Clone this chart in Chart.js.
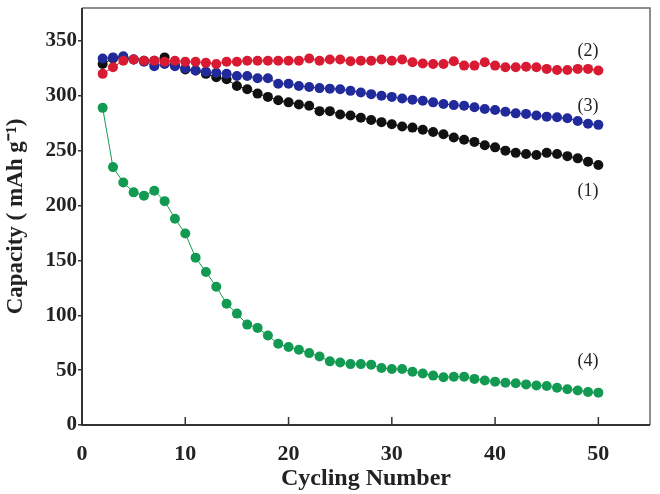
<!DOCTYPE html>
<html>
<head>
<meta charset="utf-8">
<script src="https://cdn.jsdelivr.net/npm/chart.js@4.4.0/dist/chart.umd.min.js"></script>
<style>
  html, body { margin: 0; padding: 0; background: #fff; }
  #wrap { width: 660px; height: 494px; }
</style>
</head>
<body>
<div id="wrap"><canvas id="myChart"></canvas></div>
<script>
// cycle numbers (x)
const cycles = [2, 3, 4, 5, 6, 7, 8, 9, 10, 11, 12, 13, 14, 15, 16, 17, 18, 19, 20, 21, 22, 23, 24, 25, 26,
  27, 28, 29, 30, 31, 32, 33, 34, 35, 36, 37, 38, 39, 40, 41, 42, 43, 44, 45, 46, 47, 48, 49, 50];

// capacity (mAh/g)
const cap1 = [329, 334, 335, 333, 332, 332, 335, 328, 324, 323, 320, 317, 315, 309, 306, 302, 299, 296, 294, 292, 291, 286, 286, 283, 282,
  280, 278, 276, 274, 272, 271, 269, 267, 265, 262, 260, 258, 255, 253, 250, 248, 247, 246, 248, 247, 245, 243, 240, 237];
const cap2 = [320, 326, 332, 333, 332, 332, 331, 332, 331, 331, 330, 329, 331, 331, 332, 332, 332, 332, 332, 332, 334, 332, 333, 333, 331.5,
  332, 332, 333, 332, 333, 330.5, 329.5, 329, 329, 331.5, 327.5, 327.5, 330.5, 327.5, 326, 326, 326.5, 326, 324.5, 323.5, 323.5, 324.5, 324.5, 323];
const cap3 = [334, 335, 336, 333, 331, 327, 329, 327, 325, 323, 322, 321, 320, 318, 318, 316, 316, 311, 311, 309, 308, 307,
  306.5, 306, 304.5, 303, 301.5, 300, 299, 297.5, 296.5, 295.5, 294, 292.5, 291.5, 291, 289.5, 288, 287, 285.5, 284, 283.5,
  282, 281, 280.5, 279.5, 277, 274.5, 273.5];
const cap4 = [289, 235, 221, 212, 209, 213.5, 204, 188, 174.5, 152.5, 139.5, 126, 110.5, 101.5, 91.5, 88.5, 81.5, 74, 71, 68.5, 65.5, 62.5, 58, 57, 55.5,
  55.5, 55, 52, 51, 51, 48.5, 47, 45, 43.5, 44, 44, 42, 40.5, 39.5, 38.5, 38, 37, 36, 35.5, 34, 32.5, 31.5, 30, 29.5];

// series names / colours
const seriesNames = ['(1)', '(2)', '(3)', '(4)'];
const seriesColors = ['#111111', '#d81a32', '#212a9a', '#129a52'];
// draw order (lower = on top): red, blue, black, green
const seriesOrder = [2, 0, 1, 3];
// where the "(n)" labels sit, in data units
const labelX = [49, 49, 49, 49];
const labelY = [213, 341, 290, 58];

// x ticks 0..50, y ticks 0..350
const xTicks = [0, 10, 20, 30, 40, 50];
const yTicks = [0, 50, 100, 150, 200, 250, 300, 350];

const serif = "'Liberation Serif', 'Times New Roman', serif";

const toPoints = (ys) => cycles.map((c, i) => ({ x: c, y: ys[i] }));

const data = {
  datasets: [cap1, cap2, cap3, cap4].map((ys, i) => ({
    label: seriesNames[i],
    data: toPoints(ys),
    order: seriesOrder[i],
    borderColor: seriesColors[i],
    backgroundColor: seriesColors[i],
    borderWidth: 1,
    pointRadius: 5,
    pointBorderWidth: 0,
    pointHoverRadius: 5,
    tension: 0
  }))
};

// frame, inward x ticks and the (n) labels
const framePlugin = {
  id: 'frame',
  afterDatasetsDraw(chart) {
    const { ctx, chartArea: a, scales: { x, y } } = chart;
    ctx.save();
    // top + right (lighter)
    ctx.strokeStyle = '#6a6a6a';
    ctx.lineWidth = 1.5;
    ctx.beginPath();
    ctx.moveTo(a.left, a.top);
    ctx.lineTo(a.right, a.top);
    ctx.lineTo(a.right, a.bottom);
    ctx.stroke();
    // left + bottom axes
    ctx.strokeStyle = '#333';
    ctx.lineWidth = 2;
    ctx.beginPath();
    ctx.moveTo(a.left, a.top);
    ctx.lineTo(a.left, a.bottom);
    ctx.lineTo(a.right, a.bottom);
    ctx.stroke();
    // x tick marks pointing up
    ctx.lineWidth = 1.5;
    xTicks.forEach(v => {
      const px = x.getPixelForValue(v);
      ctx.beginPath();
      ctx.moveTo(px, a.bottom);
      ctx.lineTo(px, a.bottom - 8);
      ctx.stroke();
    });
    // series labels
    ctx.fillStyle = '#222';
    ctx.font = '18px ' + serif;
    ctx.textAlign = 'center';
    ctx.textBaseline = 'middle';
    seriesNames.forEach((n, i) => {
      ctx.fillText(n, x.getPixelForValue(labelX[i]), y.getPixelForValue(labelY[i]));
    });
    ctx.restore();
  }
};

const config = {
  type: 'line',
  data,
  options: {
    responsive: true,
    maintainAspectRatio: false,
    animation: false,
    layout: { padding: { left: 0, top: 8, right: 10, bottom: 0 } },
    plugins: {
      legend: { display: false },
      tooltip: { enabled: false }
    },
    scales: {
      x: {
        type: 'linear',
        min: 0,
        max: 55,
        border: { display: false },
        grid: { display: false },
        afterBuildTicks: (s) => { s.ticks = xTicks.map(v => ({ value: v })); },
        afterFit: (s) => { s.height = 69; s.paddingLeft = 0; s.paddingRight = 0; },
        ticks: {
          color: '#222',
          padding: 8,
          maxRotation: 0,
          font: { family: serif, size: 22, weight: 'bold' }
        },
        title: {
          display: true,
          text: 'Cycling Number',
          color: '#222',
          padding: { top: 0, bottom: 1 },
          font: { family: serif, size: 24, weight: 'bold' }
        }
      },
      y: {
        min: 0,
        max: 380,
        border: { display: false },
        grid: { drawOnChartArea: false, tickLength: 4, color: '#333', lineWidth: 1.5 },
        afterBuildTicks: (s) => { s.ticks = yTicks.map(v => ({ value: v })); },
        afterFit: (s) => { s.width = 82; s.paddingTop = 0; s.paddingBottom = 0; },
        ticks: {
          color: '#222',
          padding: 1,
          font: { family: serif, size: 21, weight: 'bold' }
        },
        title: {
          display: true,
          text: 'Capacity ( mAh g⁻¹)',
          color: '#222',
          padding: { top: 2, bottom: 0 },
          font: { family: serif, size: 23, weight: 'bold' }
        }
      }
    }
  },
  plugins: [framePlugin]
};

const myChart = new Chart(document.getElementById('myChart'), config);
</script>
</body>
</html>
